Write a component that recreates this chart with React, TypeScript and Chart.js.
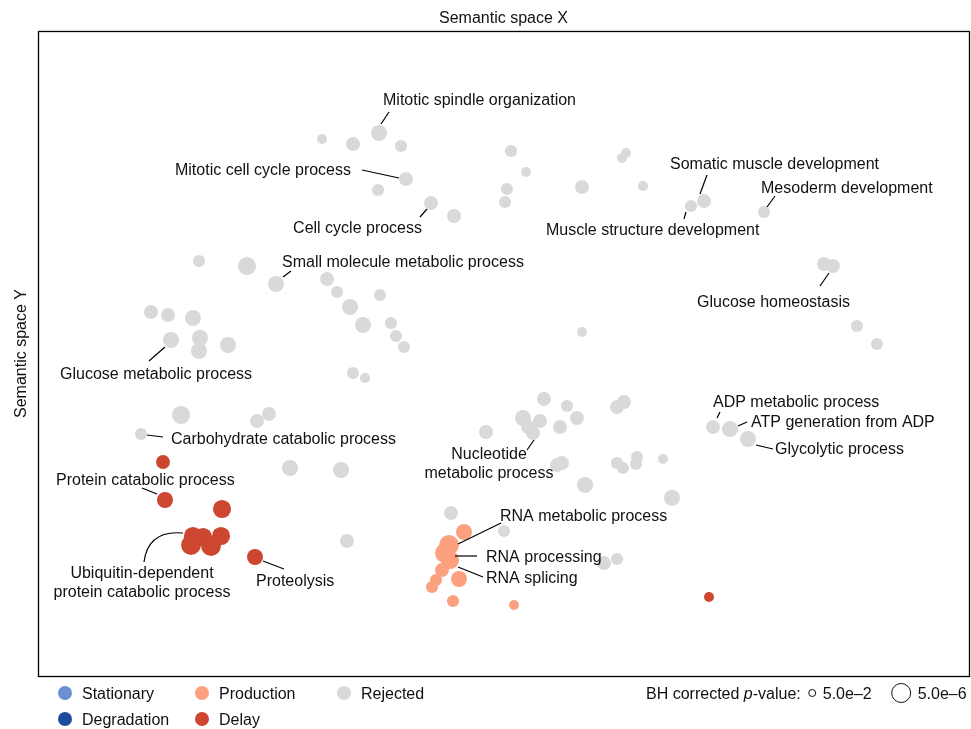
import React, { useEffect, useRef } from "react";
import { Chart, registerables } from "chart.js";
Chart.register(...registerables);

// Semantic space coordinates and -log10(BH corrected p-value)
const rejectedX = [28.4, 31.5, 34.1, 36.3, 36.8, 34.0, 39.3, 41.6, 47.3, 48.8, 46.9, 46.7, 54.4, 58.8, 58.4, 60.5, 65.3, 66.6, 72.6, 78.6, 79.5, 81.9, 83.9, 16.1, 20.9, 23.8, 28.9, 29.9, 31.2, 32.5, 34.2, 35.3, 35.8, 36.6, 11.3, 13.0, 15.5, 13.3, 16.2, 16.1, 19.0, 31.5, 32.7, 14.3, 21.9, 23.1, 10.3, 25.2, 30.3, 30.9, 54.4, 50.6, 52.9, 53.9, 48.5, 50.2, 49.0, 49.5, 52.2, 44.8, 57.9, 58.6, 51.9, 52.4, 57.9, 58.5, 59.9, 59.8, 62.5, 54.7, 63.4, 41.3, 46.6, 56.6, 57.9, 67.5, 69.2, 71.0];
const rejectedY = [53.7, 53.2, 54.3, 53.0, 49.7, 48.6, 47.3, 46.0, 52.5, 50.4, 48.7, 47.4, 48.9, 52.3, 51.8, 49.0, 47.0, 47.5, 46.4, 41.2, 41.0, 35.0, 33.2, 41.5, 41.0, 39.2, 39.7, 38.4, 36.9, 35.1, 38.1, 35.3, 34.0, 32.9, 36.4, 36.1, 35.8, 33.6, 33.8, 32.5, 33.1, 30.3, 29.8, 26.1, 25.5, 26.2, 24.2, 20.8, 20.6, 13.5, 34.4, 27.7, 27.0, 25.8, 25.8, 25.5, 24.9, 24.3, 24.9, 24.4, 26.9, 27.4, 21.1, 21.3, 21.3, 20.8, 21.9, 21.2, 21.7, 19.1, 17.8, 16.3, 14.5, 11.3, 11.7, 24.9, 24.7, 23.7];
const rejectedLogP = [2.3, 3.6, 4.3, 3.0, 3.6, 3.0, 3.6, 3.6, 3.0, 2.3, 3.0, 3.0, 3.6, 2.3, 2.3, 2.3, 3.0, 3.6, 3.0, 3.6, 3.6, 3.0, 3.0, 3.0, 5.0, 4.3, 3.6, 3.0, 4.3, 4.3, 3.0, 3.0, 3.0, 3.0, 3.6, 3.6, 4.3, 4.3, 4.3, 4.3, 4.3, 3.0, 2.3, 5.0, 3.6, 3.6, 3.0, 4.3, 4.3, 3.6, 2.3, 3.6, 3.0, 3.6, 4.3, 3.6, 3.6, 3.6, 3.6, 3.6, 3.6, 3.6, 3.6, 3.6, 3.0, 3.0, 3.0, 3.0, 2.3, 4.3, 4.3, 3.6, 3.0, 3.6, 3.0, 3.6, 4.3, 4.3];

const productionX = [42.6, 41.1, 40.7, 41.2, 40.4, 39.8, 39.4, 42.1, 41.5, 47.6];
const productionY = [14.4, 13.1, 12.3, 11.6, 10.6, 9.6, 8.9, 9.7, 7.5, 7.1];
const productionLogP = [4.3, 5.6, 5.6, 5.0, 3.6, 3.0, 3.0, 4.3, 3.0, 2.3];

const delayX = [12.5, 12.7, 18.4, 15.5, 16.5, 18.3, 15.3, 17.3, 21.7, 67.1];
const delayY = [21.4, 17.6, 16.7, 14.0, 13.9, 14.0, 13.1, 13.0, 11.9, 7.9];
const delayLogP = [3.6, 4.3, 5.0, 5.0, 5.0, 5.0, 5.6, 5.6, 4.3, 2.3];

const stationaryX: number[] = [];
const stationaryY: number[] = [];
const stationaryLogP: number[] = [];
const degradationX: number[] = [];
const degradationY: number[] = [];
const degradationLogP: number[] = [];

const categories = ["Stationary", "Degradation", "Production", "Delay", "Rejected"];
const categoryColors = ["#6b8fd3", "#1f4c9a", "#fca07f", "#cc4630", "#d9d9d9"];
const pLegendLabels = ["5.0e\u20132", "5.0e\u20136"];
const pLegendLogP = [-Math.log10(5e-2), -Math.log10(5e-6)];

const xTitle = "Semantic space X";
const yTitle = "Semantic space Y";

type Ann = { text: string[]; at: [number, number]; align: CanvasTextAlign; line: [number, number][] };
const annotations: Ann[] = [
  { text: ["Mitotic spindle organization"], at: [34.5, 57.7], align: "left", line: [[34.3, 55.2], [35.1, 56.4]] },
  { text: ["Mitotic cell cycle process"], at: [31.3, 50.7], align: "right", line: [[32.4, 50.6], [36.1, 49.8]] },
  { text: ["Cell cycle process"], at: [38.4, 44.9], align: "right", line: [[38.2, 45.9], [38.9, 46.7]] },
  { text: ["Somatic muscle development"], at: [63.2, 51.3], align: "left", line: [[66.9, 50.1], [66.2, 48.2]] },
  { text: ["Muscle structure development"], at: [50.8, 44.7], align: "left", line: [[64.8, 46.4], [64.6, 45.7]] },
  { text: ["Mesoderm development"], at: [72.3, 48.9], align: "left", line: [[73.7, 48.0], [72.9, 46.9]] },
  { text: ["Glucose homeostasis"], at: [65.9, 37.5], align: "left", line: [[79.1, 40.3], [78.2, 39.0]] },
  { text: ["Small molecule metabolic process"], at: [24.4, 41.5], align: "left", line: [[24.5, 39.9], [25.3, 40.5]] },
  { text: ["Glucose metabolic process"], at: [2.2, 30.3], align: "left", line: [[12.7, 32.9], [11.1, 31.5]] },
  { text: ["Carbohydrate catabolic process"], at: [13.3, 23.8], align: "left", line: [[10.9, 24.1], [12.5, 23.9]] },
  { text: ["Protein catabolic process"], at: [1.8, 19.7], align: "left", line: [[10.4, 18.8], [11.9, 18.2]] },
  { text: ["Ubiquitin-dependent", "protein catabolic process"], at: [10.4, 10.4], align: "center", line: [[10.6, 11.4], [11.0, 14.6], [14.5, 14.3]] },
  { text: ["Proteolysis"], at: [21.8, 9.6], align: "left", line: [[22.5, 11.5], [24.6, 10.7]] },
  { text: ["Nucleotide", "metabolic process"], at: [45.1, 22.3], align: "center", line: [[49.6, 23.6], [48.9, 22.6]] },
  { text: ["RNA metabolic process"], at: [46.2, 16.1], align: "left", line: [[42.0, 13.2], [46.3, 15.3]] },
  { text: ["RNA processing"], at: [44.8, 12.0], align: "left", line: [[41.7, 12.0], [43.9, 12.0]] },
  { text: ["RNA splicing"], at: [44.8, 9.9], align: "left", line: [[42.0, 10.9], [44.5, 9.9]] },
  { text: ["ADP metabolic process"], at: [67.5, 27.5], align: "left", line: [[67.9, 25.8], [68.2, 26.4]] },
  { text: ["ATP generation from ADP"], at: [71.3, 25.5], align: "left", line: [[70.0, 25.0], [70.9, 25.4]] },
  { text: ["Glycolytic process"], at: [73.7, 22.8], align: "left", line: [[71.8, 23.1], [73.5, 22.7]] },
];

const FONT = '"Liberation Sans", Arial, Helvetica, sans-serif';
const TY = 1.5; // vertical text nudge
const radius = (lp: number) => 3.5 + (lp - 1.3) * 1.5;

const pts = (xs: number[], ys: number[], lps: number[]) => xs.map((x, i) => ({ x, y: ys[i], lp: lps[i] }));

const overlay = {
  id: "overlay",
  afterDatasetsDraw(chart: any) {
    const { ctx, chartArea: a, scales } = chart;
    const sx = (v: number) => scales.x.getPixelForValue(v);
    const sy = (v: number) => scales.y.getPixelForValue(v);
    ctx.save();
    ctx.strokeStyle = "#000";
    ctx.lineWidth = 1.3;
    ctx.strokeRect(a.left + 0.5, a.top + 0.5, a.right - a.left, a.bottom - a.top);
    ctx.font = `16px ${FONT}`;
    ctx.fillStyle = "#111";
    ctx.textBaseline = "middle";
    ctx.lineWidth = 1.2;
    for (const an of annotations) {
      ctx.beginPath();
      const p = an.line.map(([x, y]) => [sx(x), sy(y)]);
      ctx.moveTo(p[0][0], p[0][1]);
      if (p.length === 3) ctx.quadraticCurveTo(p[1][0], p[1][1], p[2][0], p[2][1]);
      else ctx.lineTo(p[1][0], p[1][1]);
      ctx.stroke();
      ctx.textAlign = an.align;
      an.text.forEach((t, i) => ctx.fillText(t, sx(an.at[0]), sy(an.at[1]) + TY + i * 19));
    }
    ctx.restore();
  },
  afterDraw(chart: any) {
    const { ctx, chartArea: a } = chart;
    ctx.save();
    ctx.fillStyle = "#111";
    ctx.font = `16px ${FONT}`;
    ctx.textBaseline = "middle";
    ctx.textAlign = "center";
    ctx.fillText(xTitle, (a.left + a.right) / 2, 17 + TY);
    ctx.save();
    ctx.translate(21.5, (a.top + a.bottom) / 2);
    ctx.rotate(-Math.PI / 2);
    ctx.fillText(yTitle, 0, 0);
    ctx.restore();
    const pos = [[65, 693], [65, 719], [202, 693], [202, 719], [344, 693]];
    ctx.textAlign = "left";
    categories.forEach((c, i) => {
      const [x, y] = pos[i];
      ctx.beginPath();
      ctx.fillStyle = categoryColors[i];
      ctx.arc(x, y, 7, 0, Math.PI * 2);
      ctx.fill();
      ctx.fillStyle = "#111";
      ctx.fillText(c, x + 17, y + TY);
    });
    let x = 646;
    const y = 694;
    const seg = (t: string, italic = false) => {
      ctx.font = `${italic ? "italic " : ""}16px ${FONT}`;
      ctx.fillText(t, x, y + 0.5);
      x += ctx.measureText(t).width;
    };
    seg("BH corrected ");
    seg("p", true);
    seg("-value:");
    ctx.strokeStyle = "#111";
    ctx.lineWidth = 1;
    pLegendLogP.forEach((lp, i) => {
      const r = radius(lp);
      x += 8 + r;
      ctx.beginPath();
      ctx.arc(x, y - 1, r, 0, Math.PI * 2);
      ctx.stroke();
      x += r + 7;
      seg(pLegendLabels[i]);
      x += 12;
    });
    ctx.restore();
  },
};

export default function App() {
  const ref = useRef<HTMLCanvasElement>(null);
  useEffect(() => {
    document.body.style.margin = "0";
    const ds = (label: string, color: string, data: any[]) => ({
      label,
      data,
      backgroundColor: color,
      borderWidth: 0,
      pointRadius: (c: any) => radius(c.raw ? c.raw.lp : 3),
      pointHoverRadius: (c: any) => radius(c.raw ? c.raw.lp : 3),
    });
    const chart = new Chart(ref.current!, {
      type: "scatter",
      data: {
        datasets: [
          ds("Rejected", categoryColors[4], pts(rejectedX, rejectedY, rejectedLogP)),
          ds("Stationary", categoryColors[0], pts(stationaryX, stationaryY, stationaryLogP)),
          ds("Degradation", categoryColors[1], pts(degradationX, degradationY, degradationLogP)),
          ds("Production", categoryColors[2], pts(productionX, productionY, productionLogP)),
          ds("Delay", categoryColors[3], pts(delayX, delayY, delayLogP)),
        ],
      },
      options: {
        responsive: false,
        animation: false,
        devicePixelRatio: 1,
        layout: { autoPadding: false, padding: { left: 38, top: 31, right: 2, bottom: 53 } },
        plugins: { legend: { display: false }, tooltip: { enabled: false } },
        scales: {
          x: { type: "linear", display: false, min: 0, max: 93.1 },
          y: { type: "linear", display: false, min: 0, max: 64.5 },
        },
      },
      plugins: [overlay],
    });
    return () => chart.destroy();
  }, []);
  return (
    <div style={{ position: "absolute", left: 0, top: 0, width: 971, height: 729, background: "#fff" }}>
      <canvas ref={ref} width={971} height={729} style={{ display: "block" }} />
    </div>
  );
}
